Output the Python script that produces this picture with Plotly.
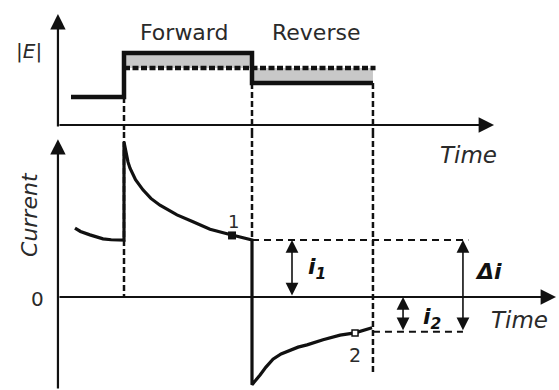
import plotly.graph_objects as go

# ---- Pulse timing (time in units of one pulse width) ----
t_forward = 1.0        # forward pulse starts
t_reverse = 2.0        # reverse pulse starts
t_end = 2.945          # reverse pulse ends
t_base_start = 0.586   # start of the baseline potential

# ---- Applied potential magnitude |E| (arbitrary units) ----
E_base = 2.8
E_forward = 7.2
E_stair = 5.7
E_reverse = 4.2

# ---- Current response (arbitrary units) ----
pre_t = [0.617, 0.66, 0.734, 0.836, 0.90, 0.953, 1.0]
pre_i = [1.21, 1.15, 1.09, 1.02, 1.005, 1.0, 1.0]
fwd_t = [1.0, 1.016, 1.031, 1.047, 1.09, 1.148, 1.21, 1.281, 1.35,
         1.414, 1.539, 1.672, 1.805, 1.90, 1.984, 2.0]
fwd_i = [2.72, 2.52, 2.37, 2.26, 2.06, 1.88, 1.73, 1.61, 1.52,
         1.44, 1.32, 1.19, 1.11, 1.06, 1.02, 1.0]
rev_t = [2.0, 2.008, 2.031, 2.063, 2.109, 2.164, 2.227, 2.297, 2.36,
         2.43, 2.555, 2.688, 2.805, 2.938]
rev_i = [-1.54, -1.52, -1.456, -1.37, -1.23, -1.09, -1.0, -0.93, -0.88,
         -0.84, -0.75, -0.67, -0.63, -0.54]

# sampled currents
sample1 = (1.844, 1.08)
sample2 = (2.805, -0.63)
i1_level = 1.0
i2_level = -0.61

# ---- layout geometry ----
X_RANGE = [0.03125, 4.3984]
TOP_RANGE = [-0.7, 12.5]
BOT_RANGE = [-1.632, 2.895]
SPLIT = 0.6615
axis_t0 = 0.484
FONT = "DejaVu Sans"
INK = "#111111"
TXT = "#2a2a2a"

fig = go.Figure()


def top(**kw):
    fig.add_trace(go.Scatter(xaxis="x", yaxis="y", showlegend=False,
                             hoverinfo="skip", **kw))


def bot(**kw):
    fig.add_trace(go.Scatter(xaxis="x2", yaxis="y2", showlegend=False,
                             hoverinfo="skip", **kw))


# ---------- top panel: |E| waveform ----------
# grey areas between the pulses and the staircase level
top(x=[t_forward, t_reverse, t_reverse, t_forward, t_forward],
    y=[E_forward, E_forward, E_stair, E_stair, E_forward],
    mode="lines", fill="toself", fillcolor="#c8c8c8", line=dict(width=0))
top(x=[t_reverse, t_end, t_end, t_reverse, t_reverse],
    y=[E_stair, E_stair, E_reverse, E_reverse, E_stair],
    mode="lines", fill="toself", fillcolor="#c8c8c8", line=dict(width=0))

# staircase level (dotted)
top(x=[t_forward, t_end + 0.02], y=[E_stair, E_stair], mode="lines",
    line=dict(color=INK, width=4.5, dash="6px,2.5px"))

# vertical dashed guides (top part)
for t0, e0 in [(t_forward, E_base), (t_reverse, E_reverse), (t_end, E_reverse)]:
    top(x=[t0, t0], y=[e0, TOP_RANGE[0]], mode="lines",
        line=dict(color=INK, width=2.5, dash="6px,3px"))

# potential waveform
top(x=[t_base_start, t_forward, t_forward, t_reverse, t_reverse, t_end],
    y=[E_base, E_base, E_forward, E_forward, E_reverse, E_reverse],
    mode="lines", line=dict(color=INK, width=4.5))

# ---------- bottom panel: current ----------
bot_guides = [(t_forward, 0.0), (t_reverse, i1_level), (t_end, -1.368)]
for t0, i0 in bot_guides:
    bot(x=[t0, t0], y=[BOT_RANGE[1], i0], mode="lines",
        line=dict(color=INK, width=2.5, dash="6px,3px"))

# horizontal dashed levels
bot(x=[t_reverse, 3.69], y=[i1_level, i1_level], mode="lines",
    line=dict(color=INK, width=1.8, dash="7px,5px"))
bot(x=[t_end, 3.648], y=[i2_level, i2_level], mode="lines",
    line=dict(color=INK, width=1.8, dash="7px,5px"))

# current trace
cur_t = pre_t + fwd_t + rev_t
cur_i = pre_i + fwd_i + rev_i
bot(x=cur_t, y=cur_i, mode="lines", line=dict(color=INK, width=3.2))

# sampling points
bot(x=[sample1[0]], y=[sample1[1]], mode="markers",
    marker=dict(symbol="square", size=8, color=INK, line=dict(width=0)))
bot(x=[sample2[0]], y=[sample2[1]], mode="markers",
    marker=dict(symbol="square", size=6, color="white",
                line=dict(color=INK, width=1.5)))

# ---------- annotations ----------
ann = []


def arrow(xref, yref, x, y, ax, ay, width, size, both=False):
    d = dict(xref=xref, yref=yref, axref=xref, ayref=yref,
             x=x, y=y, ax=ax, ay=ay, text="", showarrow=True,
             arrowhead=2, arrowsize=size, arrowwidth=width,
             arrowcolor=INK, standoff=0, startstandoff=0)
    if both:
        d.update(arrowside="end+start", startarrowhead=2,
                 startarrowsize=size)
    ann.append(d)


# axes
arrow("x", "y", axis_t0, 11.1, axis_t0, -0.3, 2.2, 1.4)
arrow("x", "y", 3.891, 0, axis_t0, 0, 2.2, 1.4)
arrow("x2", "y2", axis_t0, 2.77, axis_t0, BOT_RANGE[0], 2.2, 1.4)
arrow("x2", "y2", 4.375, 0, axis_t0, 0, 2.2, 1.4)

# measurement arrows
arrow("x2", "y2", 2.3125, i1_level, 2.3125, 0.0, 1.6, 1.6, both=True)
arrow("x2", "y2", 3.18, 0.0, 3.18, i2_level, 1.6, 1.6, both=True)
arrow("x2", "y2", 3.648, i1_level, 3.648, i2_level, 1.6, 1.6, both=True)


def label(xref, yref, x, y, text, size=20, angle=0, color=TXT):
    ann.append(dict(xref=xref, yref=yref, x=x, y=y, text=text,
                    showarrow=False, textangle=angle,
                    xanchor="center", yanchor="middle",
                    font=dict(family=FONT, size=size, color=color)))


label("x", "y", 0.258, 7.4, "|<i>E</i>|", 20)
label("x", "y", 1.469, 9.3, "Forward", 22)
label("x", "y", 2.5, 9.3, "Reverse", 22)
label("x2", "y2", 3.695, 2.49, "<i>Time</i>", 23)
label("x2", "y2", 0.266, 1.44, "<i>Current</i>", 22, angle=-90)
label("x2", "y2", 0.328, -0.03, "0", 20)
label("x2", "y2", 4.086, -0.40, "<i>Time</i>", 23)
label("x2", "y2", 1.852, 1.33, "1", 18)
label("x2", "y2", 2.805, -1.01, "2", 19)
label("x2", "y2", 2.51, 0.50, "<b><i>i</i></b><sub><b><i>1</i></b></sub>", 22, color=INK)
label("x2", "y2", 3.41, -0.37, "<b><i>i</i></b><sub><b><i>2</i></b></sub>", 22, color=INK)
label("x2", "y2", 3.85, 0.44, "<b><i>Δi</i></b>", 22, color=INK)

fig.update_layout(
    width=559, height=390,
    margin=dict(l=0, r=0, t=0, b=0),
    paper_bgcolor="white", plot_bgcolor="white",
    xaxis=dict(domain=[0, 1], range=X_RANGE, visible=False, anchor="y"),
    yaxis=dict(domain=[SPLIT, 1], range=TOP_RANGE, visible=False, anchor="x"),
    xaxis2=dict(domain=[0, 1], range=X_RANGE, visible=False, anchor="y2"),
    yaxis2=dict(domain=[0, SPLIT], range=BOT_RANGE, visible=False, anchor="x2"),
    annotations=ann,
)

fig.write_html("out.html")
